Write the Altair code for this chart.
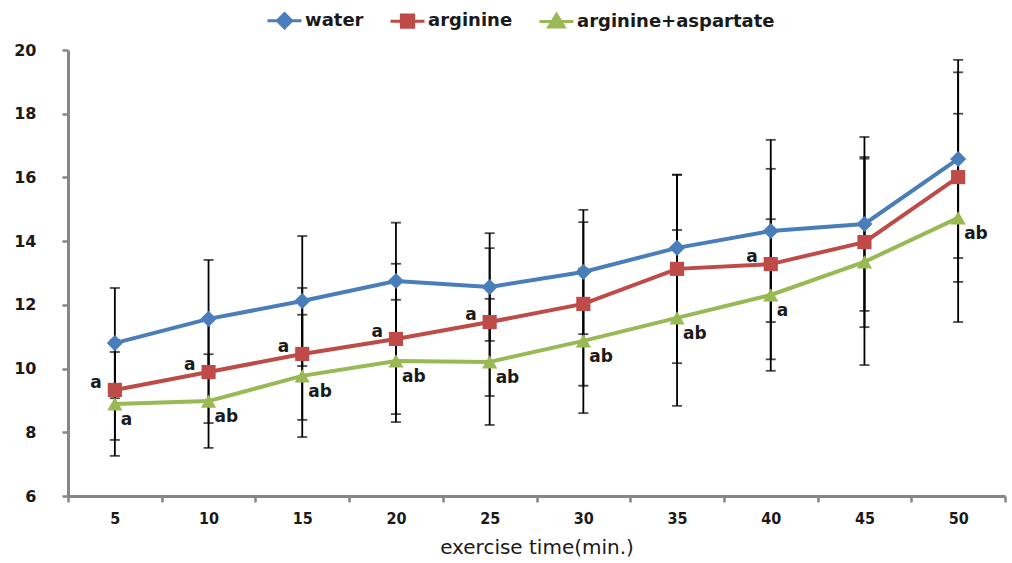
import altair as alt
import pandas as pd

times = [5, 10, 15, 20, 25, 30, 35, 40, 45, 50]
series_names = ["water", "arginine", "arginine+aspartate"]
water_mean = [10.80, 11.56, 12.12, 12.75, 12.56, 13.03, 13.79, 14.32, 14.54, 16.58]
water_sd = [1.73, 1.85, 2.04, 1.83, 1.69, 1.95, 2.29, 2.86, 2.73, 3.11]
arg_mean = [9.33, 9.89, 10.46, 10.93, 11.46, 12.03, 13.13, 13.28, 13.97, 16.01]
arg_sd = [1.57, 1.60, 2.07, 2.36, 2.32, 2.57, 2.96, 2.99, 2.67, 3.29]
asp_mean = [8.89, 8.98, 9.77, 10.24, 10.21, 10.87, 11.59, 12.31, 13.35, 14.73]
asp_sd = [1.63, 1.47, 1.92, 1.92, 1.98, 2.27, 2.76, 2.38, 3.24, 3.27]
arg_label = ["a", "a", "a", "a", "a", "", "", "a", "", ""]
asp_label = ["a", "ab", "ab", "ab", "ab", "ab", "ab", "a", "", "ab"]

colors = ["#4A7EBB", "#BE4B48", "#98B954"]
shapes = ["diamond", "square", "triangle-up"]
legend_paths = [
    "M-1,0L1,0M0,-0.42L0.42,0L0,0.42L-0.42,0Z",
    "M-1,0L1,0M-0.36,-0.36L0.36,-0.36L0.36,0.36L-0.36,0.36Z",
    "M-1,0L1,0M0,-0.42L0.45,0.32L-0.45,0.32Z",
]

rows = []
for name, means, sds, labels in [
    ("water", water_mean, water_sd, [""] * 10),
    ("arginine", arg_mean, arg_sd, arg_label),
    ("arginine+aspartate", asp_mean, asp_sd, asp_label),
]:
    for t, m, s, lab in zip(times, means, sds, labels):
        rows.append({"time": str(t), "series": name, "mean": m,
                     "lower": m - s, "upper": m + s, "label": lab})
df = pd.DataFrame(rows)

font = "DejaVu Sans"
x_enc = alt.X("time:N", sort=[str(t) for t in times],
              scale=alt.Scale(paddingInner=0, paddingOuter=0),
              axis=alt.Axis(title="exercise time(min.)", labelAngle=0,
                            tickBand="extent", tickSize=6, tickWidth=2.5,
                            tickColor="#868686", domainColor="#868686",
                            domainWidth=3, labelFont="DejaVu Sans Condensed",
                            labelFontWeight="bold", labelFontSize=16,
                            labelColor="#1a1a1a", labelPadding=8,
                            titleFont=font, titleFontSize=20,
                            titleFontWeight="normal", titleColor="#1a1a1a",
                            titlePadding=11))
y_scale = alt.Scale(domain=[6, 20], nice=False, zero=False)
y_axis = alt.Axis(title=None, values=list(range(6, 21, 2)), grid=False,
                  tickSize=6, tickWidth=2.5, tickColor="#868686",
                  domainColor="#868686", domainWidth=3, labelFont=font,
                  labelFontWeight="bold", labelFontSize=16,
                  labelColor="#1a1a1a", labelPadding=26)

base = alt.Chart(df)

err = base.mark_rule(color="black", strokeWidth=1.8).encode(
    x=x_enc, y=alt.Y("lower:Q", scale=y_scale, axis=y_axis), y2="upper:Q")
cap_lo = base.mark_tick(color="black", thickness=1.8, size=10,
                        orient="horizontal").encode(x=x_enc, y="lower:Q")
cap_hi = base.mark_tick(color="black", thickness=1.8, size=10,
                        orient="horizontal").encode(x=x_enc, y="upper:Q")

line_layers = []
point_layers = []
for name, col, shp, sz in zip(series_names, colors, shapes, [260, 200, 230]):
    sub = base.transform_filter(alt.datum.series == name)
    line_layers.append(
        sub.mark_line(strokeWidth=4, color=col).encode(x=x_enc, y="mean:Q"))
    point_layers.append(
        sub.mark_point(filled=True, shape=shp, size=sz, color=col, opacity=1)
        .encode(x=x_enc, y="mean:Q"))

legend_layer = base.transform_filter("false").mark_point(
    filled=True, strokeWidth=3, opacity=1).encode(
    x=x_enc, y="mean:Q",
    fill=alt.Fill("series:N", scale=alt.Scale(domain=series_names, range=colors),
                  legend=alt.Legend(title=None, orient="none", legendX=198,
                                    legendY=-48, direction="horizontal",
                                    symbolSize=1156, symbolStrokeWidth=3,
                                    symbolOpacity=1, labelFont=font,
                                    labelFontWeight="bold", labelFontSize=18,
                                    labelColor="#1a1a1a", labelOffset=2,
                                    labelLimit=400, columnPadding=20,
                                    padding=0)),
    stroke=alt.Stroke("series:N", scale=alt.Scale(domain=series_names, range=colors)),
    shape=alt.Shape("series:N", scale=alt.Scale(domain=series_names, range=legend_paths)),
)

lab_arg = base.transform_filter(
    (alt.datum.series == "arginine") & (alt.datum.label != "")
).mark_text(align="right", baseline="middle", dx=-13, dy=-7, font=font,
            fontSize=17, fontWeight="bold", color="#1a1a1a").encode(
    x=x_enc, y="mean:Q", text="label:N")
lab_asp = base.transform_filter(
    (alt.datum.series == "arginine+aspartate") & (alt.datum.label != "")
).mark_text(align="left", baseline="middle", dx=6, dy=16, font=font,
            fontSize=17, fontWeight="bold", color="#1a1a1a").encode(
    x=x_enc, y="mean:Q", text="label:N")

chart = alt.layer(err, cap_lo, cap_hi, *line_layers, *point_layers,
                  legend_layer, lab_arg, lab_asp).properties(
    width=937, height=446,
    autosize=alt.AutoSizeParams(type="none"),
    padding={"left": 68, "top": 50, "right": 7, "bottom": 67},
    background="white",
).configure_view(stroke=None)

chart.save("out.html", embed_options={"renderer": "svg", "actions": False})
